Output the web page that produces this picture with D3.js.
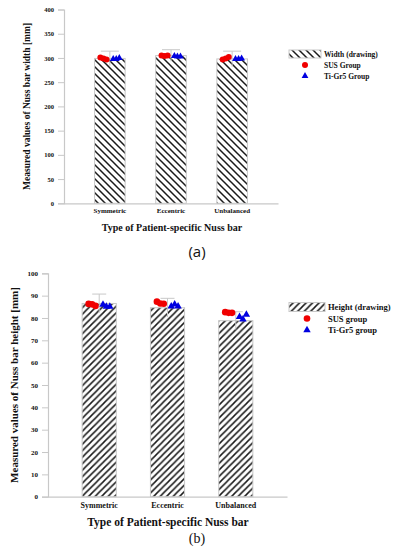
<!DOCTYPE html>
<html>
<head>
<meta charset="utf-8">
<script src="https://cdn.jsdelivr.net/npm/d3@7"></script>
<style>
  body { margin: 0; background: #fff; }
  svg text { font-family: "Liberation Serif", "Times New Roman", serif; font-weight: bold; fill: #111; }
</style>
</head>
<body>
<div id="chart"></div>
<script>
const categories = ['Symmetric', 'Eccentric', 'Unbalanced'];
const groups = ['SUS', 'Ti'];

// panel (a) width
const widthTicks = [0, 50, 100, 150, 200, 250, 300, 350, 400];
const widthDrawing = [299, 305, 298];
const widthErr = [15, 12, 16];
const widthSUS = [[301, 299, 297], [305, 304, 305], [297, 299, 302]];
const widthTi = [[298, 298, 300], [304, 303, 303], [298, 298, 299]];

// panel (b) height
const heightTicks = [0, 10, 20, 30, 40, 50, 60, 70, 80, 90, 100];
const heightDrawing = [86.5, 84.6, 78.8];
const heightErr = [4.2, 4.2, 4];
const heightSUS = [[86.3, 86.1, 85.4], [87.3, 86.5, 86.4], [82.6, 82.3, 82.3]];
const heightTi = [[86, 85.1, 85.1], [85.2, 86.1, 85.2], [80.5, 79.4, 81.5]];

const svg = d3.select('#chart').append('svg')
  .attr('width', 395)
  .attr('height', 550);

const defs = svg.append('defs');
function hatch(id, size, slash) {
  const p = defs.append('pattern')
    .attr('id', id)
    .attr('patternUnits', 'userSpaceOnUse')
    .attr('width', size)
    .attr('height', size);
  p.append('rect').attr('width', size).attr('height', size).attr('fill', '#fff');
  const d = slash
    ? `M-1,1 L1,-1 M0,${size} L${size},0 M${size - 1},${size + 1} L${size + 1},${size - 1}`
    : `M-1,${size - 1} L1,${size + 1} M0,0 L${size},${size} M${size - 1},-1 L${size + 1},1`;
  p.append('path').attr('d', d).attr('stroke', '#1a1a1a').attr('stroke-width', 1.5);
}
hatch('hatchA', 7, false);
hatch('hatchB', 6.5, true);

const grey = '#c8c8c8';

function drawPanel(o) {
  const g = svg.append('g');
  const x = d3.scaleBand().domain(categories).range([o.left, o.right]).padding(0.5);
  const y = d3.scaleLinear().domain([0, o.max]).range([o.bottom, o.top]);
  const bw = x.bandwidth();
  const gx = d3.scalePoint().domain(groups).range([bw * 0.29, bw * 0.71]);
  const rx = d3.scalePoint().domain([0, 1, 2]).range([-bw * 0.1, bw * 0.1]);

  // y axis
  const ay = g.append('g')
    .attr('transform', `translate(${o.left},0)`)
    .call(d3.axisLeft(y).tickValues(o.ticks).tickSize(6).tickPadding(4));
  ay.select('.domain').attr('stroke', grey).attr('stroke-width', 1.2);
  ay.selectAll('.tick line').attr('stroke', grey);
  ay.selectAll('.tick text')
    .style('font-family', '"Liberation Serif", serif')
    .style('font-weight', 'bold')
    .style('font-size', o.tickFont + 'px')
    .attr('fill', '#111');

  // x axis line
  const ax = g.append('g')
    .attr('transform', `translate(0,${o.bottom})`)
    .call(d3.axisBottom(x).tickSize(0).tickPadding(o.catPad));
  ax.select('.domain').attr('stroke', grey).attr('stroke-width', 1.2);
  ax.selectAll('.tick text')
    .style('font-family', '"Liberation Serif", serif')
    .style('font-weight', 'bold')
    .style('font-size', o.catFont + 'px')
    .attr('fill', '#111');

  // bars
  g.selectAll('.bar').data(o.bars).enter().append('rect')
    .attr('x', (d, i) => x(categories[i]))
    .attr('y', d => y(d))
    .attr('width', bw)
    .attr('height', d => o.bottom - y(d))
    .attr('fill', `url(#${o.pattern})`)
    .attr('stroke', grey)
    .attr('stroke-width', 1);

  // error bars
  const eb = g.selectAll('.err').data(o.bars).enter().append('g');
  eb.append('line')
    .attr('x1', (d, i) => x(categories[i]) + bw / 2)
    .attr('x2', (d, i) => x(categories[i]) + bw / 2)
    .attr('y1', (d, i) => y(d - o.err[i]))
    .attr('y2', (d, i) => y(d + o.err[i]))
    .attr('stroke', grey).attr('stroke-width', 1);
  eb.append('line')
    .attr('x1', (d, i) => x(categories[i]) + bw / 2 - o.cap)
    .attr('x2', (d, i) => x(categories[i]) + bw / 2 + o.cap)
    .attr('y1', (d, i) => y(d + o.err[i]))
    .attr('y2', (d, i) => y(d + o.err[i]))
    .attr('stroke', grey).attr('stroke-width', 1);

  // SUS points
  o.sus.forEach((vals, i) => {
    g.selectAll(null).data(vals).enter().append('circle')
      .attr('cx', (d, j) => x(categories[i]) + gx('SUS') + rx(j))
      .attr('cy', d => y(d))
      .attr('r', o.r)
      .attr('fill', '#f00000');
  });
  // Ti-Gr5 points
  const tri = d3.symbol().type(d3.symbolTriangle).size(o.triSize);
  o.ti.forEach((vals, i) => {
    g.selectAll(null).data(vals).enter().append('path')
      .attr('d', tri)
      .attr('transform', (d, j) => `translate(${x(categories[i]) + gx('Ti') + rx(j)},${y(d)})`)
      .attr('fill', '#0000e0');
  });

  // axis titles
  g.append('text')
    .attr('transform', `translate(${o.ylabX},${(o.top + o.bottom) / 2}) rotate(-90)`)
    .attr('text-anchor', 'middle')
    .attr('dominant-baseline', 'central')
    .style('font-size', o.ylabFont + 'px')
    .text(o.ylab);
  g.append('text')
    .attr('x', o.xlabX)
    .attr('y', o.xlabY)
    .attr('text-anchor', 'middle')
    .attr('dominant-baseline', 'central')
    .style('font-size', o.xlabFont + 'px')
    .text('Type of Patient-specific Nuss bar');

  // legend
  const lg = g.append('g').attr('transform', `translate(${o.legX},${o.legY})`);
  lg.append('rect')
    .attr('x', 0).attr('y', -o.legH / 2)
    .attr('width', o.legW).attr('height', o.legH)
    .attr('fill', `url(#${o.pattern})`)
    .attr('stroke', grey);
  lg.append('text').attr('x', o.legW + 3).attr('y', 0)
    .attr('dominant-baseline', 'central')
    .style('font-size', o.legFont + 'px').text(o.legLabels[0]);
  lg.append('circle').attr('cx', o.legMark).attr('cy', o.legStep).attr('r', o.r).attr('fill', '#f00000');
  lg.append('text').attr('x', o.legW + 3).attr('y', o.legStep)
    .attr('dominant-baseline', 'central')
    .style('font-size', o.legFont + 'px').text(o.legLabels[1]);
  lg.append('path').attr('d', tri)
    .attr('transform', `translate(${o.legMark},${o.legStep * 2})`)
    .attr('fill', '#0000e0');
  lg.append('text').attr('x', o.legW + 3).attr('y', o.legStep * 2)
    .attr('dominant-baseline', 'central')
    .style('font-size', o.legFont + 'px').text(o.legLabels[2]);

  // panel letter
  g.append('text')
    .attr('x', 197).attr('y', o.letterY)
    .attr('text-anchor', 'middle')
    .attr('dominant-baseline', 'central')
    .style('font-family', o.letterFont)
    .style('font-weight', 'normal')
    .style('font-size', o.letterSize + 'px')
    .text(o.letter);
}

drawPanel({
  left: 64, right: 278, top: 9.5, bottom: 203.3, max: 400, ticks: widthTicks,
  bars: widthDrawing, err: widthErr, sus: widthSUS, ti: widthTi,
  pattern: 'hatchA', tickFont: 6.5, catFont: 7, catPad: 5, cap: 9, r: 3, triSize: 20,
  ylab: 'Measured values of Nuss bar width [mm]', ylabX: 27, ylabFont: 9.5,
  xlabX: 172, xlabY: 227, xlabFont: 10,
  legX: 289, legY: 54, legW: 32, legH: 8, legMark: 16, legStep: 11, legFont: 7.5,
  legLabels: ['Width (drawing)', 'SUS Group', 'Ti-Gr5 Group'],
  letter: '(a)', letterY: 251, letterFont: '"Open Sans", "DejaVu Sans", sans-serif', letterSize: 15
});

drawPanel({
  left: 48, right: 287, top: 273.3, bottom: 496.7, max: 100, ticks: heightTicks,
  bars: heightDrawing, err: heightErr, sus: heightSUS, ti: heightTi,
  pattern: 'hatchB', tickFont: 7, catFont: 8, catPad: 6, cap: 7, r: 3.3, triSize: 24,
  ylab: 'Measured values of Nuss bar height [mm]', ylabX: 14, ylabFont: 11,
  xlabX: 168, xlabY: 522, xlabFont: 11.5,
  legX: 289, legY: 307, legW: 36, legH: 9, legMark: 18, legStep: 11.5, legFont: 8.5,
  legLabels: ['Height (drawing)', 'SUS group', 'Ti-Gr5 group'],
  letter: '(b)', letterY: 538, letterFont: '"Liberation Serif", serif', letterSize: 14
});
</script>
</body>
</html>
